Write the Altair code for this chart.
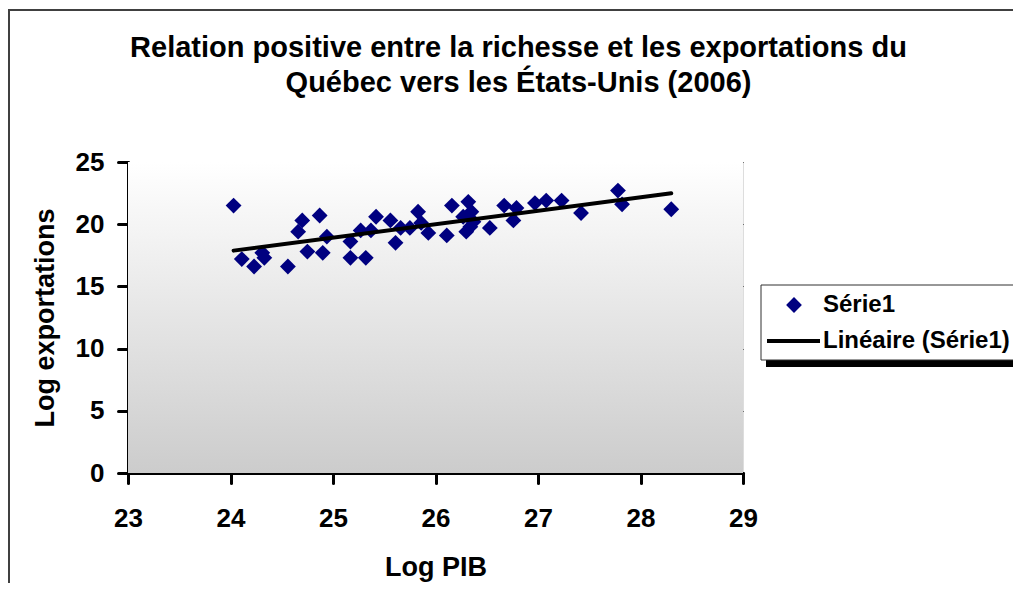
import altair as alt
import pandas as pd

# ---- data ----
log_pib = [24.03, 24.11, 24.23, 24.31, 24.33, 24.56, 24.70, 24.66, 24.75, 24.87,
           24.90, 24.94, 25.17, 25.17, 25.27, 25.32, 25.37, 25.42, 25.56, 25.61,
           25.66, 25.75, 25.83, 25.86, 25.93, 26.11, 26.16, 26.32, 26.27, 26.35,
           26.30, 26.37, 26.34, 26.53, 26.67, 26.79, 26.76, 26.97, 27.08, 27.23,
           27.42, 27.78, 27.82, 28.30]
log_exp = [21.5, 17.2, 16.6, 17.7, 17.3, 16.6, 20.3, 19.4, 17.8, 20.7,
           17.7, 19.0, 18.6, 17.3, 19.5, 17.3, 19.5, 20.6, 20.3, 18.5,
           19.7, 19.7, 21.0, 20.1, 19.3, 19.1, 21.5, 21.8, 20.6, 21.0,
           19.4, 20.2, 19.8, 19.7, 21.5, 21.3, 20.3, 21.7, 21.9, 21.9,
           20.9, 22.7, 21.6, 21.2]
title_lines = ["Relation positive entre la richesse et les exportations du",
               "Québec vers les États-Unis (2006)"]
legend_labels = ["Série1", "Linéaire (Série1)"]
x_ticks = [23, 24, 25, 26, 27, 28, 29]
y_ticks = [0, 5, 10, 15, 20, 25]
x_title = "Log PIB"
y_title = "Log exportations"

df = pd.DataFrame({"pib": log_pib, "exp": log_exp})
one = pd.DataFrame({"k": [0]})

W, H = 615, 311
FONT = "Liberation Sans"
NAVY = "#000080"

xs = alt.Scale(domain=[23, 29], nice=False, zero=False)
ys = alt.Scale(domain=[0, 25], nice=False)

x_axis = alt.Axis(values=x_ticks, format="d", grid=False,
                  domainColor="black", domainWidth=3, domainCap="round",
                  tickColor="black", tickWidth=3, tickSize=10, tickCap="round",
                  labelFont=FONT, labelFontSize=26, labelFontWeight="bold",
                  labelColor="black", labelBaseline="alphabetic", labelPadding=43,
                  labelFlush=False, labelOverlap=False,
                  title=x_title, titleFont=FONT, titleFontSize=27,
                  titleFontWeight="bold", titleColor="black",
                  titleX=W / 2, titleY=102, titleBaseline="alphabetic",
                  titleAlign="center")
y_axis = alt.Axis(values=y_ticks, format="d", grid=True,
                  gridColor="black", gridWidth=1,
                  domainColor="black", domainWidth=3, domainCap="round",
                  tickColor="black", tickWidth=3, tickSize=10, tickCap="round",
                  labelFont=FONT, labelFontSize=26, labelFontWeight="bold",
                  labelColor="black", labelPadding=14, labelBaseline="middle",
                  labelFlush=False, labelOverlap=False,
                  title=y_title, titleFont=FONT, titleFontSize=27,
                  titleFontWeight="bold", titleColor="black",
                  titleAngle=270, titleX=-75, titleY=H / 2,
                  titleBaseline="alphabetic", titleAlign="center")

# outer chart border (extends past the right and bottom edges, as in the reference)
outer = alt.Chart(one).mark_rect(fill="transparent", stroke="#404040",
                                 strokeWidth=2).encode(
    x=alt.value(-119), x2=alt.value(1000), y=alt.value(-152), y2=alt.value(700))

# chart title (two centred lines)
TX = 390.5
title1 = alt.Chart(one).mark_text(text=title_lines[0], font=FONT, fontSize=29,
                                  fontWeight="bold", color="black", align="center",
                                  baseline="alphabetic").encode(
    x=alt.value(TX), y=alt.value(-105))
title2 = alt.Chart(one).mark_text(text=title_lines[1], font=FONT, fontSize=29,
                                  fontWeight="bold", color="black", align="center",
                                  baseline="alphabetic").encode(
    x=alt.value(TX), y=alt.value(-70))

grad = alt.Gradient(gradient="linear", x1=0, y1=0, x2=0, y2=1,
                    stops=[alt.GradientStop(offset=0, color="#ffffff"),
                           alt.GradientStop(offset=1, color="#cccccc")])
plot_bg = alt.Chart(one).mark_rect(color=grad).encode(
    x=alt.value(0), x2=alt.value(W), y=alt.value(0), y2=alt.value(H))

points = alt.Chart(df).mark_point(shape="diamond", filled=True, size=250,
                                  color=NAVY, opacity=1).encode(
    x=alt.X("pib:Q", scale=xs, axis=x_axis),
    y=alt.Y("exp:Q", scale=ys, axis=y_axis))

trend = alt.Chart(df).transform_regression("pib", "exp").mark_line(
    color="black", strokeWidth=4, strokeCap="round").encode(
    x=alt.X("pib:Q", scale=xs, axis=x_axis),
    y=alt.Y("exp:Q", scale=ys, axis=y_axis))

# legend (box, shadow, symbols, labels)
LX, LY = 633, 123
shadow = alt.Chart(one).mark_rect(fill="black").encode(
    x=alt.value(LX + 5), x2=alt.value(LX + 300), y=alt.value(LY + 5), y2=alt.value(LY + 82))
box = alt.Chart(one).mark_rect(fill="white", stroke="#303030", strokeWidth=1).encode(
    x=alt.value(LX), x2=alt.value(LX + 258), y=alt.value(LY), y2=alt.value(LY + 75))
leg_pt = alt.Chart(one).mark_point(shape="diamond", filled=True, size=250,
                                   color=NAVY, opacity=1).encode(
    x=alt.value(LX + 33), y=alt.value(LY + 20))
leg_line = alt.Chart(one).mark_rule(color="black", strokeWidth=4).encode(
    x=alt.value(LX + 6), x2=alt.value(LX + 59), y=alt.value(LY + 56))
leg_t1 = alt.Chart(one).mark_text(text=legend_labels[0], font=FONT, fontSize=24,
                                  fontWeight="bold", color="black", align="left",
                                  baseline="middle").encode(
    x=alt.value(LX + 62), y=alt.value(LY + 20))
leg_t2 = alt.Chart(one).mark_text(text=legend_labels[1], font=FONT, fontSize=24,
                                  fontWeight="bold", color="black", align="left",
                                  baseline="middle").encode(
    x=alt.value(LX + 62), y=alt.value(LY + 56))

chart = alt.layer(outer, title1, title2, plot_bg, points, trend, shadow, box,
                  leg_pt, leg_line, leg_t1, leg_t2).properties(
    width=W, height=H,
    padding={"left": 120, "top": 154, "right": 270, "bottom": 110},
    autosize=alt.AutoSizeParams(type="none"),
).configure_view(
    stroke="#808080", strokeWidth=2,
).configure(background="white")

chart.save("out.html", embed_options={"renderer": "svg", "actions": False})
